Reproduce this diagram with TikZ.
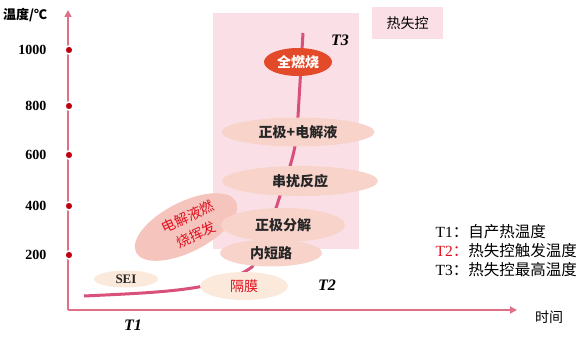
\documentclass[tikz,border=0pt]{standalone}
\usepackage{fontspec}
\setmainfont{Liberation Serif}
\newfontfamily\cjk{Noto Sans CJK SC}
\usetikzlibrary{shapes.geometric,arrows.meta}
\definecolor{axisc}{HTML}{E07088}
\definecolor{curvec}{HTML}{D9507A}
\definecolor{dotc}{HTML}{C00010}
\definecolor{zonec}{HTML}{FAE0E6}
\definecolor{ellc}{HTML}{F7D3CA}
\definecolor{creamc}{HTML}{FBEADB}
\definecolor{firec}{HTML}{E34A2A}
\definecolor{hotc}{HTML}{F5C5BD}
\definecolor{redtxt}{HTML}{E01020}
\tikzset{
  stage/.style={ellipse, fill=ellc, inner sep=0pt, font=\cjk\bfseries\fontsize{14}{16}\selectfont, text=black!85},
  tick/.style={circle, fill=dotc, draw=white, line width=1.5pt, inner sep=0pt, minimum size=8pt},
  numlab/.style={anchor=east, font=\bfseries\fontsize{14}{16}\selectfont},
  tlab/.style={font=\bfseries\itshape\fontsize{16}{18}\selectfont},
  leg/.style={anchor=west, font=\fontsize{15.5}{17}\selectfont}
}
\begin{document}
\begin{tikzpicture}[x=1pt,y=-1pt]
\useasboundingbox (0,0) rectangle (587,337);
% zone
\node[fill=zonec, minimum width=146pt, minimum height=236pt, inner sep=0pt] (zone) at (286,131) {};
\node[fill=zonec, minimum width=71pt, minimum height=32pt, inner sep=0pt, font=\cjk\fontsize{14}{16}\selectfont] (tr) at (407.5,23) {热失控};
% axes
\coordinate (O) at (68,310);
\coordinate (ytop) at (68,10);
\coordinate (xend) at (517,310);
\draw[axisc, line width=1.6pt, -{Triangle[length=7pt,width=7pt]}] (O) -- (ytop);
\draw[axisc, line width=1.6pt, -{Triangle[length=7pt,width=7pt]}] (O) -- (xend);
\node[anchor=west, font=\cjk\bfseries\fontsize{13}{15}\selectfont, inner sep=0pt] (ylab) at (3,15) {温度/℃};
\node[font=\cjk\fontsize{14}{16}\selectfont] (xlab) at (549,317) {时间};
% ticks
\foreach \v/\y in {1000/50,800/106,600/155,400/206,200/255}{
  \node[tick] (d\v) at (69,\y) {};
  \node[numlab] (n\v) at (50,\y) {\v};
}
% curve
\coordinate (c0) at (84,296);
\coordinate (c1) at (303,33);
\draw[curvec, line width=3pt] (c0) .. controls (170,292) and (220,290) .. (252,267)
  .. controls (265,245) and (272,220) .. (278,202)
  .. controls (285,180) and (294,160) .. (297,133)
  -- (c1);
% stages
\node[stage, fill=hotc, rotate=27, minimum width=112pt, minimum height=50pt] (s7) at (186,227) {};
\node[stage, fill=firec, text=white, minimum width=68pt, minimum height=28pt] (s1) at (298,62) {全燃烧};
\node[stage, minimum width=153pt, minimum height=29pt] (s2) at (298,132) {正极+电解液};
\node[stage, minimum width=156pt, minimum height=30pt] (s3) at (300,181) {串扰反应};
\node[stage, minimum width=124pt, minimum height=34pt] (s4) at (283,225) {正极分解};
\node[stage, minimum width=102pt, minimum height=27pt] (s5) at (271,253) {内短路};
\node[stage, fill=creamc, text=redtxt, minimum width=88pt, minimum height=28pt, font=\cjk\fontsize{14}{16}\selectfont] (s6) at (244,286) {隔膜};
\node[stage, fill=creamc, minimum width=64pt, minimum height=17pt, font=\bfseries\fontsize{13}{15}\selectfont] (sei) at (126,279) {SEI};
\node[rotate=25, text=redtxt, font=\cjk\fontsize{14}{20}\selectfont, align=center, inner sep=0pt] (s7t) at (192,226) {电解液燃\\烧挥发};
% T labels
\node[tlab] (t3) at (340,40) {T3};
\node[tlab] (t2) at (327,285) {T2};
\node[tlab] (t1) at (133,325) {T1};
% legend
\node[leg] (l1) at (432,232) {T1{\cjk：自产热温度}};
\node[leg, text=redtxt] (l2) at (432,251) {T2{\cjk：}\textcolor{black}{\cjk 热失控触发温度}};
\node[leg] (l3) at (432,270) {T3{\cjk：热失控最高温度}};
\end{tikzpicture}
\end{document}
